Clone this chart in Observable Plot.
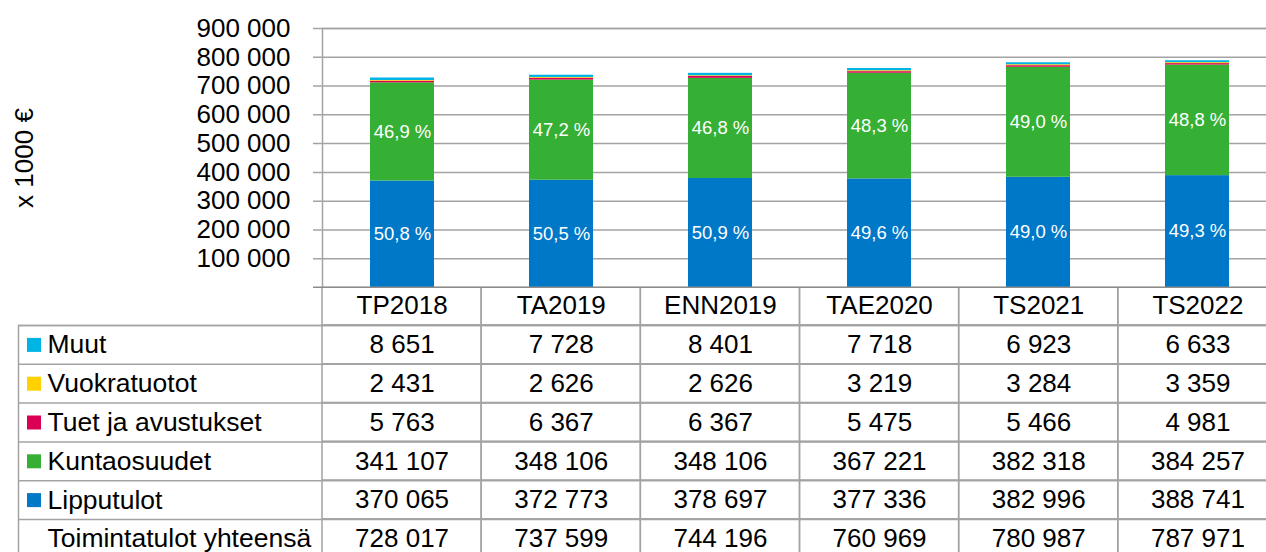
<!DOCTYPE html>
<html>
<head>
<meta charset="utf-8">
<script src="https://cdn.jsdelivr.net/npm/d3@7"></script>
<script src="https://cdn.jsdelivr.net/npm/@observablehq/plot@0.6"></script>
<style>
html, body { margin: 0; padding: 0; background: #fff; overflow: hidden; }
#chart { width: 1277px; }
#chart svg { display: block; max-width: none; }
</style>
</head>
<body>
<div id="chart"></div>
<script>
// ---- data ----
const categories = ["TP2018", "TA2019", "ENN2019", "TAE2020", "TS2021", "TS2022"];
const series = ["Lipputulot", "Kuntaosuudet", "Tuet ja avustukset", "Vuokratuotot", "Muut"];
const colors = ["#0078C8", "#36B034", "#DC0055", "#FFD100", "#00B5E5"];
const lipputulot = [370065, 372773, 378697, 377336, 382996, 388741];
const kuntaosuudet = [341107, 348106, 348106, 367221, 382318, 384257];
const tuet = [5763, 6367, 6367, 5475, 5466, 4981];
const vuokratuotot = [2431, 2626, 2626, 3219, 3284, 3359];
const muut = [8651, 7728, 8401, 7718, 6923, 6633];
const yhteensa = [728017, 737599, 744196, 760969, 780987, 787971];
const totalLabel = "Toimintatulot yhteensä";
const yTicks = [0, 100000, 200000, 300000, 400000, 500000, 600000, 700000, 800000, 900000];
const yLabel = "x 1000 €";

// ---- helpers ----
const FONT = "'Liberation Sans', Arial, Helvetica, sans-serif";
const LINE = "#a3a3a3";
const loc = d3.formatLocale({decimal: ",", thousands: "\u00a0", grouping: [3], currency: ["", " €"]});
const fmtInt = loc.format(",d");
const fmtPct = loc.format(".1f");

const valuesBySeries = [lipputulot, kuntaosuudet, tuet, vuokratuotot, muut];
const long = [];
series.forEach((s, si) => categories.forEach((c, ci) => {
  long.push({cat: c, series: s, value: valuesBySeries[si][ci], share: valuesBySeries[si][ci] / yhteensa[ci]});
}));

// ---- chart ----
const chart = Plot.plot({
  width: 1277, height: 288,
  marginLeft: 322, marginRight: 0, marginTop: 28, marginBottom: 1,
  style: {fontFamily: FONT, fontSize: "26px", color: "#000", background: "transparent", maxWidth: "none"},
  x: {domain: categories, paddingInner: 0.6, paddingOuter: 0.3, axis: null},
  y: {domain: [0, 900000], ticks: yTicks, tickSize: 0, tickPadding: 32,
      tickFormat: d => d === 0 ? "" : fmtInt(d), label: null},
  color: {domain: series, range: colors},
  marks: [
    Plot.ruleY(yTicks.filter(d => d > 0), {stroke: LINE, strokeWidth: 1.5, insetLeft: -9}),
    Plot.frame({stroke: LINE, strokeWidth: 1.5}),
    Plot.barY(long, {x: "cat", y: "value", fill: "series"}),
    Plot.ruleY([0], {stroke: "#8c8c8c", strokeWidth: 2, insetLeft: -9}),
    Plot.text(long, Plot.stackY({
      x: "cat", y: "value", z: "series",
      filter: d => d.share > 0.2,
      text: d => fmtPct(d.share * 100) + " %",
      fill: "white", fontSize: 18.5
    })),
    Plot.text([yLabel], {text: d => d, frameAnchor: "left", textAnchor: "middle", rotate: -90, dx: -298, fontSize: 26, fill: "#000"})
  ]
});

// ---- data table ----
const tableRows = [
  {key: "Muut", values: muut},
  {key: "Vuokratuotot", values: vuokratuotot},
  {key: "Tuet ja avustukset", values: tuet},
  {key: "Kuntaosuudet", values: kuntaosuudet},
  {key: "Lipputulot", values: lipputulot},
  {key: totalLabel, values: yhteensa}
];
const rowKeys = ["header", ...tableRows.map(r => r.key)];
const cells = [];
categories.forEach((c, ci) => {
  cells.push({cat: c, row: "header", label: c});
  tableRows.forEach(r => cells.push({cat: c, row: r.key, label: fmtInt(r.values[ci])}));
});
const rowH = 38.8, headerTop = -1.8;

const table = Plot.plot({
  width: 1277, height: 264,
  marginLeft: 18, marginRight: 0, marginTop: 0, marginBottom: 0,
  style: {fontFamily: FONT, fontSize: "26px", color: "#000", background: "transparent", maxWidth: "none"},
  x: {type: "band", domain: categories, range: [322, 1277], padding: 0, round: false, axis: null},
  y: {type: "band", domain: rowKeys, range: [headerTop, headerTop + rowH * rowKeys.length], padding: 0, round: false, axis: null},
  color: {domain: series, range: colors},
  marks: [
    Plot.cell(cells, {x: "cat", y: "row", fill: "none", stroke: LINE, strokeWidth: 1.5}),
    Plot.ruleY(rowKeys.slice(1), {y: d => d, dy: -rowH / 2, stroke: LINE, strokeWidth: 1.5}),
    Plot.frame({stroke: LINE, strokeWidth: 1.5, insetTop: headerTop + rowH, insetBottom: -20, insetRight: -20}),
    Plot.text(cells, {x: "cat", y: "row", text: "label", fontSize: 26, fill: "#000"}),
    Plot.dot(series, {y: d => d, fill: d => d, symbol: "square", r: 7.9, frameAnchor: "left", dx: 15.5}),
    Plot.text(rowKeys.slice(1), {y: d => d, text: d => d, frameAnchor: "left", textAnchor: "start", dx: 29, fontSize: 26.5, fill: "#000"})
  ]
});

document.getElementById("chart").append(chart, table);
</script>
</body>
</html>
